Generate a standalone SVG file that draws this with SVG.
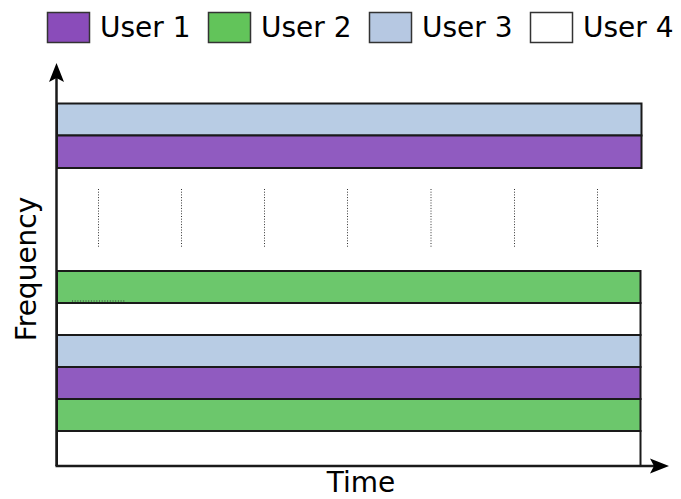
<svg xmlns="http://www.w3.org/2000/svg" width="681" height="499" viewBox="0 0 681 499">
<style>
  .t { font-family: "DejaVu Sans", "Liberation Sans", sans-serif; font-size: 28px; fill: #000; }
  .bar { stroke: #1a1a1a; stroke-width: 2; }
  .lg { stroke: #333; stroke-width: 1.5; }
  .p { fill: #905bc0; }
  .g { fill: #6cc76c; }
  .b { fill: #b8cce4; }
  .w { fill: #ffffff; }
  .dot { stroke: #333; stroke-width: 1; stroke-dasharray: 1 1.7; }
  .ax { stroke: #1a1a1a; stroke-width: 2.5; fill: none; }
</style>
<rect width="681" height="499" fill="#fff"/>

<g id="legend">
  <g id="legend-user1">
    <rect class="lg" x="47.5" y="12.5" width="42" height="30" fill="#8a4cba"/>
    <text class="t" x="100" y="37">User 1</text>
  </g>
  <g id="legend-user2">
    <rect class="lg" x="208.5" y="12.5" width="42" height="30" fill="#62c45a"/>
    <text class="t" x="261" y="37">User 2</text>
  </g>
  <g id="legend-user3">
    <rect class="lg" x="369.5" y="12.5" width="42" height="30" fill="#b6c8e2"/>
    <text class="t" x="422" y="37">User 3</text>
  </g>
  <g id="legend-user4">
    <rect class="lg" x="530.5" y="12.5" width="42" height="30" fill="#ffffff"/>
    <text class="t" x="583" y="37">User 4</text>
  </g>
</g>

<g id="bars">
  <g id="bar-top-user3"><rect class="bar b" x="57" y="103.5" width="584.5" height="32"/></g>
  <g id="bar-top-user1"><rect class="bar p" x="57" y="135.5" width="584.5" height="32.5"/></g>
  <g id="bar-user2-a"><rect class="bar g" x="57" y="271" width="583.5" height="32"/></g>
  <g id="bar-user4-a"><rect class="bar w" x="57" y="303" width="583.5" height="32"/></g>
  <g id="bar-user3-b"><rect class="bar b" x="57" y="335" width="583.5" height="32"/></g>
  <g id="bar-user1-b"><rect class="bar p" x="57" y="367" width="583.5" height="32"/></g>
  <g id="bar-user2-b"><rect class="bar g" x="57" y="399" width="583.5" height="32"/></g>
  <g id="bar-user4-b"><rect class="bar w" x="57" y="431" width="583.5" height="35"/></g>
  <line class="dot" x1="72" y1="301" x2="126" y2="301"/>
</g>

<g id="ellipsis">
  <line class="dot" x1="98.5" y1="189" x2="98.5" y2="248"/>
  <line class="dot" x1="181.5" y1="189" x2="181.5" y2="248"/>
  <line class="dot" x1="264.5" y1="189" x2="264.5" y2="248"/>
  <line class="dot" x1="347.5" y1="189" x2="347.5" y2="248"/>
  <line class="dot" x1="431" y1="189" x2="431" y2="248"/>
  <line class="dot" x1="514.5" y1="189" x2="514.5" y2="248"/>
  <line class="dot" x1="597.5" y1="189" x2="597.5" y2="248"/>
</g>

<g id="connectors">
  <line class="ax" x1="56.5" y1="466" x2="56.5" y2="78"/>
  <polygon points="56.5,63 64,82 56.5,78 49,82" fill="#000"/>
  <line class="ax" x1="55.5" y1="466" x2="654" y2="466"/>
  <polygon points="669,466 650,473.5 654,466 650,458.5" fill="#000"/>
</g>

<g id="labels">
  <text class="t" x="361" y="492" text-anchor="middle">Time</text>
  <text class="t" transform="translate(36,269) rotate(-90)" text-anchor="middle">Frequency</text>
</g>
</svg>
